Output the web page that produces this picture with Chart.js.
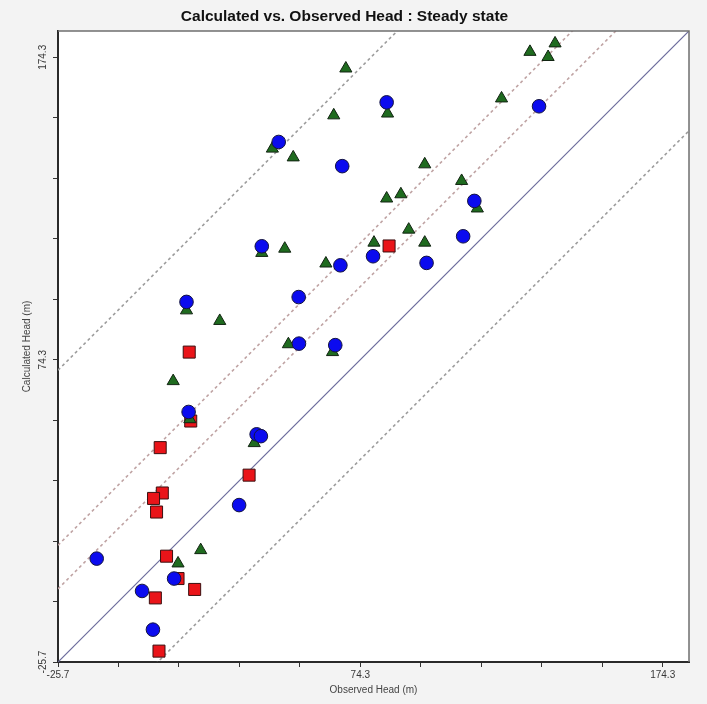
<!DOCTYPE html>
<html><head><meta charset="utf-8">
<script src="https://cdn.jsdelivr.net/npm/chart.js@4/dist/chart.umd.min.js"></script>
<style>html,body{margin:0;padding:0;background:#f3f3f3;overflow:hidden}</style>
</head><body>
<canvas id="c" width="707" height="704"></canvas>
<script>
// ---- text ----
const titleText = 'Calculated vs. Observed Head : Steady state';
const xTitle = 'Observed Head (m)';
const yTitle = 'Calculated Head (m)';

// ---- axes ----
const axisMin = -25.7;
const axisMax = 183;
const tickValues = [-25.7, -5.7, 14.3, 34.3, 54.3, 74.3, 94.3, 114.3, 134.3, 154.3, 174.3];
const tickLabels = ['-25.7', '', '', '', '', '74.3', '', '', '', '', '174.3'];

// ---- blue circles ----
const blueObserved   = [83.0, 47.3, 68.3, 41.7, 78.5, 67.7, 53.9, 16.8, 54.0, 66.0, 133.4, 112.0, 108.3, 96.2, 17.5, 40.0, 41.4, 34.2, -12.9, 12.7, 2.1, 5.7];
const blueCalculated = [159.4, 146.3, 138.3, 111.8, 108.5, 105.5, 95.0, 93.4, 79.6, 79.1, 158.1, 126.8, 115.1, 106.3, 57.0, 49.6, 49.0, 26.2, 8.5, 1.9, -2.2, -15.0];

// ---- green triangles ----
const greenObserved   = [69.5, 83.3, 65.5, 45.2, 52.1, 83.0, 41.7, 49.3, 78.8, 62.9, 16.8, 27.8, 50.5, 65.1, 138.7, 130.4, 136.4, 121.0, 95.6, 107.8, 113.0, 87.7, 90.3, 95.6, 12.4, 17.9, 39.2, 21.5, 14.0];
const greenCalculated = [170.6, 155.7, 155.1, 144.1, 141.2, 127.6, 109.6, 111.0, 113.0, 106.1, 90.6, 87.1, 79.4, 76.8, 178.9, 176.1, 174.4, 160.7, 138.9, 133.4, 124.3, 129.0, 117.3, 113.0, 67.2, 54.6, 46.7, 11.3, 6.9];

// ---- red squares ----
const redObserved   = [83.8, 17.7, 18.2, 8.1, 37.5, 8.8, 5.9, 6.9, 10.2, 14.0, 19.5, 6.5, 7.7];
const redCalculated = [111.9, 76.8, 54.0, 45.2, 36.1, 30.2, 28.4, 23.9, 9.3, 1.9, -1.7, -4.5, -22.1];

// ---- reference lines (calculated = observed + offset) ----
const lineNames   = ['1:1', '95% interval upper', '95% conf. upper', '95% conf. lower', '95% interval lower'];
const lineOffsets = [0, 96.5, 38.6, 24.2, -33.0];
const lineColors  = ['#6c6c9c', '#9c9c9c', '#bfa3a3', '#bfa3a3', '#9c9c9c'];
const lineDashes  = [[], [3, 3], [3, 3], [3, 3], [3, 3]];

function pts(xs, ys) { return xs.map((x, i) => ({ x: x, y: ys[i] })); }

const lineSets = lineOffsets.map((off, i) => ({
  label: lineNames[i],
  data: [{ x: axisMin, y: axisMin + off }, { x: axisMax, y: axisMax + off }],
  showLine: true,
  pointRadius: 0,
  borderColor: lineColors[i],
  borderDash: lineDashes[i],
  borderWidth: i === 0 ? 1.2 : 1.6,
  fill: false,
  tension: 0,
  order: 10 + i
}));

const framePlugin = {
  id: 'frame',
  beforeDraw(chart) {
    const { ctx, chartArea: a } = chart;
    ctx.save();
    ctx.fillStyle = '#f3f3f3';
    ctx.fillRect(0, 0, chart.width, chart.height);
    ctx.fillStyle = '#ffffff';
    ctx.fillRect(a.left, a.top, a.right - a.left, a.bottom - a.top);
    ctx.restore();
  },
  afterDraw(chart) {
    const { ctx, chartArea: a } = chart;
    ctx.save();
    ctx.strokeStyle = '#6f6f6f';
    ctx.lineWidth = 1.5;
    ctx.beginPath();
    ctx.moveTo(a.left, a.top);
    ctx.lineTo(a.right, a.top);
    ctx.lineTo(a.right, a.bottom);
    ctx.stroke();
    ctx.restore();
  }
};

const font = "'Liberation Sans', Arial, sans-serif";

function axis(isX) {
  return {
    type: 'linear',
    position: isX ? 'bottom' : 'left',
    min: axisMin,
    max: axisMax,
    afterBuildTicks: s => { s.ticks = tickValues.map(v => ({ value: v })); },
    afterFit: s => { if (isX) s.height = 42; else s.width = 58; },
    ticks: Object.assign({
      autoSkip: false,
      callback: (v, i) => tickLabels[i],
      font: { family: font, size: 10 },
      color: '#383838'
    }, isX ? { maxRotation: 0, minRotation: 0, padding: 2 }
           : { maxRotation: 90, minRotation: 90, crossAlign: 'center', padding: -3 }),
    grid: { drawOnChartArea: false, drawTicks: true, tickLength: 5, color: '#333', tickWidth: 1 },
    border: { display: true, color: '#2a2a2a', width: 2 },
    title: {
      display: true,
      text: isX ? xTitle : yTitle,
      font: { family: font, size: 10 },
      color: '#444',
      padding: isX ? { top: 0, bottom: 8 } : { top: 21, bottom: 0 }
    }
  };
}

new Chart(document.getElementById('c'), {
  type: 'scatter',
  data: {
    datasets: [
      {
        label: 'Layer A',
        data: pts(blueObserved, blueCalculated),
        pointStyle: 'circle',
        pointRadius: 6.8,
        backgroundColor: '#0b0bef',
        borderColor: '#151540',
        borderWidth: 1,
        order: 1
      },
      {
        label: 'Layer B',
        data: pts(greenObserved, greenCalculated),
        pointStyle: 'triangle',
        pointRadius: 7,
        backgroundColor: '#1f6b1f',
        borderColor: '#122412',
        borderWidth: 1,
        order: 2
      },
      {
        label: 'Layer C',
        data: pts(redObserved, redCalculated),
        pointStyle: 'rect',
        pointRadius: 8.5,
        backgroundColor: '#ea1419',
        borderColor: '#3a1010',
        borderWidth: 1,
        order: 3
      }
    ].concat(lineSets)
  },
  options: {
    responsive: false,
    animation: false,
    devicePixelRatio: 1,
    layout: { padding: { top: 0, right: 18, bottom: 0, left: 0 } },
    plugins: {
      legend: { display: false },
      tooltip: { enabled: false },
      title: {
        display: true,
        text: titleText,
        color: '#111',
        font: { family: font, size: 15.5, weight: 'bold' },
        padding: { top: 7, bottom: 5.4 }
      }
    },
    scales: { x: axis(true), y: axis(false) }
  },
  plugins: [framePlugin]
});
</script>
</body></html>
